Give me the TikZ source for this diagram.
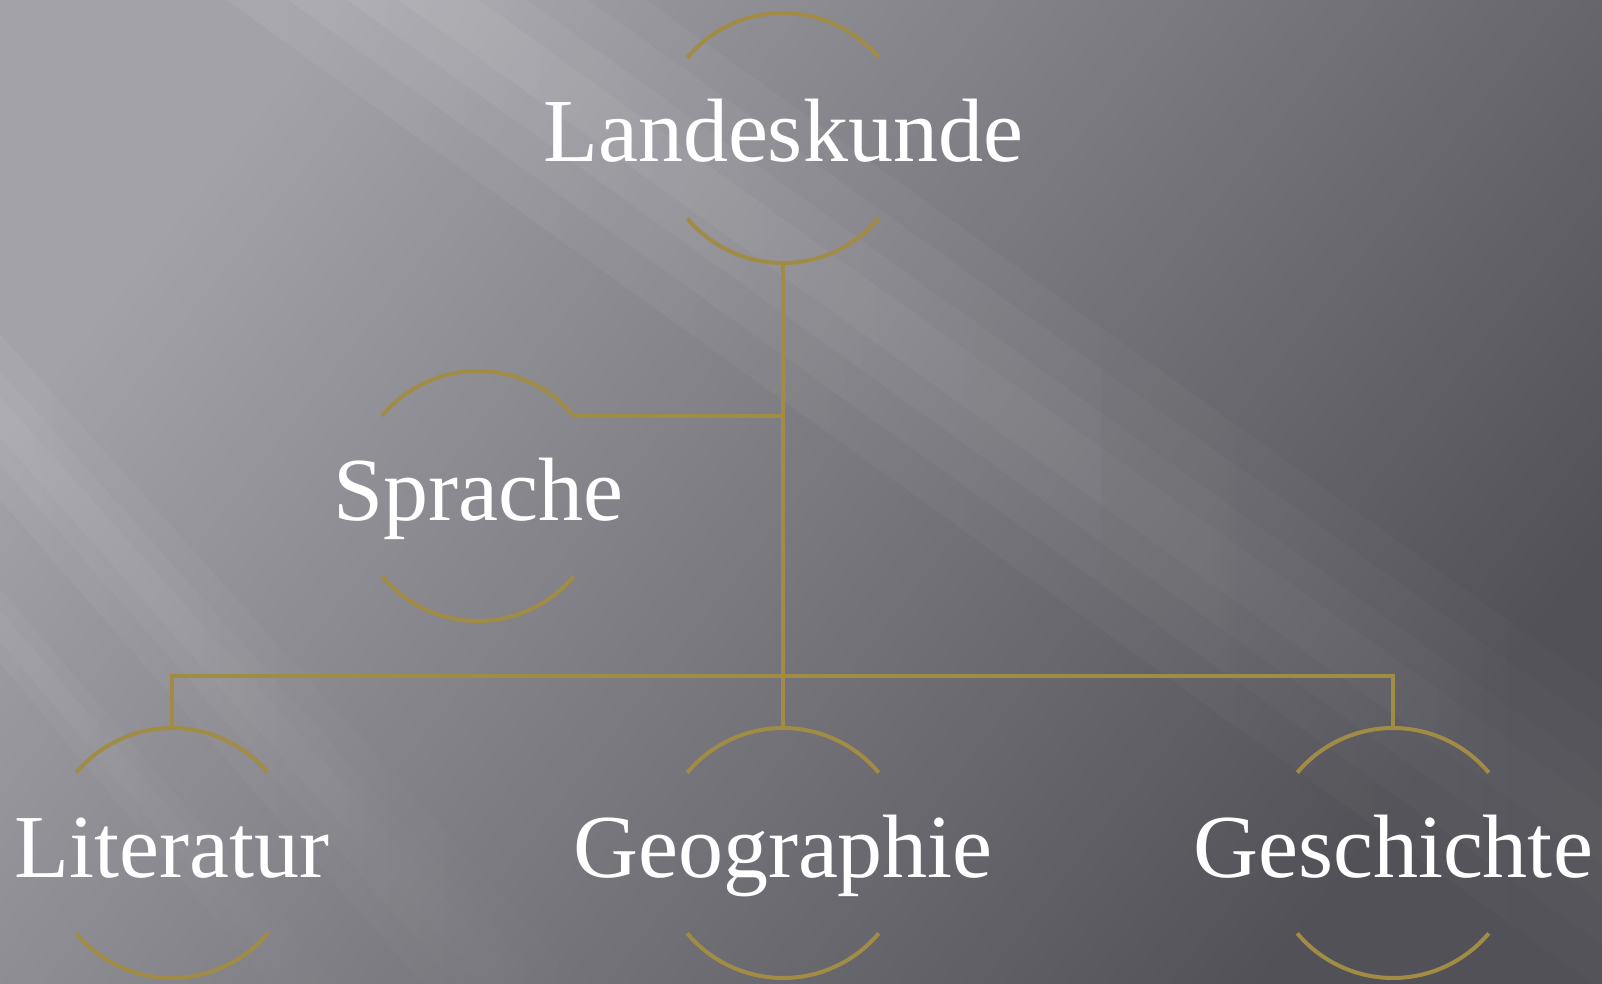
\documentclass[tikz,border=0pt]{standalone}
\usepackage{fontspec}
\setmainfont{Liberation Serif}
\usetikzlibrary{positioning,fadings}
\definecolor{lkgold}{HTML}{A08C45}
\definecolor{lkhigh}{HTML}{A3A2A9}
\definecolor{lkmid}{HTML}{77767D}
\definecolor{lklow}{HTML}{525157}

\begin{document}
\begin{tikzpicture}[x=0.5pt,y=0.5pt,
  topic/.style={circle,minimum size=125pt,inner sep=0pt,outer sep=0pt,text=white,
    font=\fontsize{45}{54}\selectfont,text height=31pt,text depth=7pt},
  rim/.style={lkgold,line width=2pt},
  link/.style={lkgold,line width=2pt,line join=miter},
  streak/.style={white,fill opacity=0.06,path fading=east}]
  % background with soft light streaks
  \shade[top color=lkhigh,middle color=lkmid,bottom color=lklow,shading angle=52]
    (0,0) rectangle (1602,-984);
  \useasboundingbox (0,0) rectangle (1602,-984);
  \begin{scope}
    \clip (0,0) rectangle (1602,-984);
    \foreach \w in {40,90,150,210}
      \fill[streak] (300-\w,100) -- (300+\w,100) -- (1900+\w,-1050) -- (1900-\w,-1050) -- cycle;
    \foreach \w in {20,45,80}
      \fill[streak] (-200,-190+\w) -- (-200,-190-\w) -- (560-\w,-1050) -- (560+\w,-1050) -- cycle;
    \foreach \w in {15,35}
      \fill[streak] (-200,-390+\w) -- (-200,-390-\w) -- (360-\w,-1050) -- (360+\w,-1050) -- cycle;
  \end{scope}

  % topics
  \node[topic] (land) at (783,-138) {\makebox[0pt]{Landeskunde}};
  \node[topic] (spr) at (478,-496) {\makebox[0pt]{Sprache}};
  \node[topic] (lit) at (172,-853) {\makebox[0pt]{Literatur}};
  \node[topic] (geo) at (783,-853) {\makebox[0pt]{Geographie}};
  \node[topic] (gesch) at (1393,-853) {\makebox[0pt]{Geschichte}};
  \foreach \n in {land,spr,lit,geo,gesch}{
    \draw[rim] (\n.40) arc[start angle=40,end angle=140,radius=62.5pt];
    \draw[rim] (\n.220) arc[start angle=220,end angle=320,radius=62.5pt];
  }

  % connectors
  \coordinate (bar) at (783,-676);
  \draw[link] (land.south) -- (bar);
  \draw[link] (spr.40) -- (spr.40 -| land.south);
  \draw[link] (lit.north) -- (lit.north |- bar) -- (gesch.north |- bar) -- (gesch.north);
  \draw[link] (bar) -- (geo.north);
\end{tikzpicture}
\end{document}
